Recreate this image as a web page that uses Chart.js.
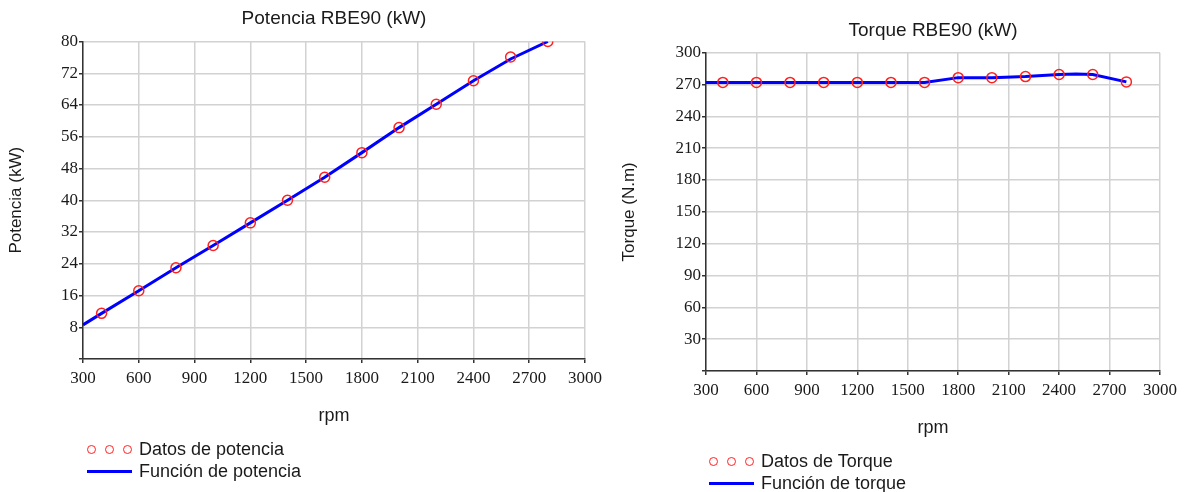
<!DOCTYPE html>
<html>
<head>
<meta charset="utf-8">
<script src="https://cdn.jsdelivr.net/npm/chart.js@4"></script>
<style>
  body { margin: 0; background: #fff; width: 1190px; height: 492px; position: relative; overflow: hidden; }
  canvas { position: absolute; top: 0; }
  #cPot { left: 0; }
  #cTor { left: 600px; }
  .leg { position: absolute; font: 18px "Liberation Sans", Arial, sans-serif; color: #1a1a1a; }
  .leg div { height: 22px; line-height: 22px; display: flex; align-items: center; white-space: nowrap; }
  .dots { width: 52px; display: inline-flex; gap: 9px; }
  .dots span { width: 9px; height: 9px; border: 1.5px solid #ff2020; border-radius: 50%; box-sizing: border-box; }
  .ln { width: 45px; height: 3px; background: #0000ff; margin-right: 7px; }
</style>
</head>
<body>
<canvas id="cPot" width="620" height="492" style="width:620px;height:492px"></canvas>
<canvas id="cTor" width="590" height="492" style="width:590px;height:492px"></canvas>

<div class="leg" style="left:87px; top:438px">
  <div><span class="dots"><span></span><span></span><span></span></span>Datos de potencia</div>
  <div><span class="ln"></span>Función de potencia</div>
</div>
<div class="leg" style="left:709px; top:450px">
  <div><span class="dots"><span></span><span></span><span></span></span>Datos de Torque</div>
  <div><span class="ln"></span>Función de torque</div>
</div>

<script>
// datos
const rpm = [400, 600, 800, 1000, 1200, 1400, 1600, 1800, 2000, 2200, 2400, 2600, 2800];
const potencia = [11.5, 17.2, 23.0, 28.6, 34.3, 40.0, 45.8, 52.0, 58.3, 64.2, 70.1, 76.1, 80.0];
const torque = [272, 272, 272, 272, 272, 272, 272, 276.5, 276.5, 277.5, 279.5, 279.5, 272.5];

// curvas (funcion) - arrancan en 300 rpm
const rpmFunc = [300, 400, 600, 800, 1000, 1200, 1400, 1600, 1800, 2000, 2200, 2400, 2600, 2800];
const potFunc = [8.6, 11.5, 17.2, 23.0, 28.6, 34.3, 40.0, 45.8, 52.0, 58.3, 64.2, 70.1, 75.6, 80.0];
const rpmTorFunc = [300, 400, 600, 800, 1000, 1200, 1400, 1600, 1800, 2000, 2200, 2400, 2500, 2600, 2800];
const torFunc = [272, 272, 272, 272, 272, 272, 272, 272, 276.5, 276.5, 277.5, 279.5, 280, 279.5, 272.5];

const xTicks = [300, 600, 900, 1200, 1500, 1800, 2100, 2400, 2700, 3000];

const sans = '"Liberation Sans", Arial, sans-serif';
const serif = '"Liberation Serif", "Times New Roman", serif';
const gridCol = '#d2d2d2';
const axisCol = '#333';
const txtCol = '#1a1a1a';

function pts(xs, ys) {
    return xs.map((x, i) => ({x: x, y: ys[i]}));
}

function makeChart(id, cfg) {
    const ctx = document.getElementById(id);
    return new Chart(ctx, {
        type: 'scatter',
        data: {
            datasets: [{
                data: pts(cfg.fx, cfg.fy),
                showLine: true,
                borderColor: '#0000ff',
                borderWidth: 3,
                pointRadius: 0,
                tension: 0,
                order: 2
            }, {
                data: pts(rpm, cfg.dy),
                showLine: false,
                pointRadius: 5,
                pointBorderWidth: 1.5,
                pointBorderColor: '#ff2020',
                pointBackgroundColor: 'rgba(0,0,0,0)',
                order: 1
            }]
        },
        options: {
            responsive: false,
            animation: false,
            layout: { padding: { left: 0, right: cfg.padRight, top: 0, bottom: 0 } },
            plugins: {
                legend: { display: false },
                tooltip: { enabled: false },
                title: {
                    display: true,
                    text: cfg.title,
                    fullSize: false,
                    color: txtCol,
                    font: { family: sans, size: 19, weight: 'normal' },
                    padding: { top: cfg.titleTop, bottom: cfg.titleBottom }
                }
            },
            scales: {
                x: {
                    type: 'linear',
                    min: 300, max: 3000,
                    afterBuildTicks: (s) => { s.ticks = xTicks.map(v => ({value: v})); },
                    afterFit: (s) => { s.height = cfg.xHeight; },
                    ticks: {
                        color: txtCol, font: { family: serif, size: 17 }, padding: 5, maxRotation: 0,
                        callback: (v) => String(v)
                    },
                    grid: { color: gridCol, lineWidth: 1.5, tickColor: axisCol, tickLength: 4, tickWidth: 1.5 },
                    border: { color: axisCol, width: 1.5 },
                    title: {
                        display: true, text: 'rpm', color: txtCol,
                        font: { family: sans, size: 18 },
                        padding: { top: 0, bottom: cfg.xTitleBottom }
                    }
                },
                y: {
                    min: 0, max: cfg.yMax,
                    afterFit: (s) => { s.width = cfg.yWidth; },
                    ticks: {
                        stepSize: cfg.yStep, padding: 1, color: txtCol,
                        font: { family: serif, size: 17 },
                        callback: (v) => v === 0 ? '' : String(v)
                    },
                    grid: { color: gridCol, lineWidth: 1.5, tickColor: axisCol, tickLength: 4, tickWidth: 1.5 },
                    border: { color: axisCol, width: 1.5 },
                    title: {
                        display: true, text: cfg.yTitle, color: txtCol,
                        font: { family: sans, size: 17 },
                        padding: { top: cfg.yTitleTop, bottom: 0 }
                    }
                }
            }
        }
    });
}

makeChart('cPot', {
    title: 'Potencia RBE90 (kW)', yTitle: 'Potencia (kW)',
    fx: rpmFunc, fy: potFunc, dy: potencia,
    yMax: 80, yStep: 8,
    padRight: 35, yWidth: 83, xHeight: 133,
    titleTop: 7.6, titleBottom: 11.1,
    xTitleBottom: 65, yTitleTop: 6.5
});

makeChart('cTor', {
    title: 'Torque RBE90 (kW)', yTitle: 'Torque (N.m)',
    fx: rpmTorFunc, fy: torFunc, dy: torque,
    yMax: 300, yStep: 30,
    padRight: 30, yWidth: 106, xHeight: 121,
    titleTop: 19.6, titleBottom: 10.3,
    xTitleBottom: 53, yTitleTop: 19.5
});
</script>
</body>
</html>
